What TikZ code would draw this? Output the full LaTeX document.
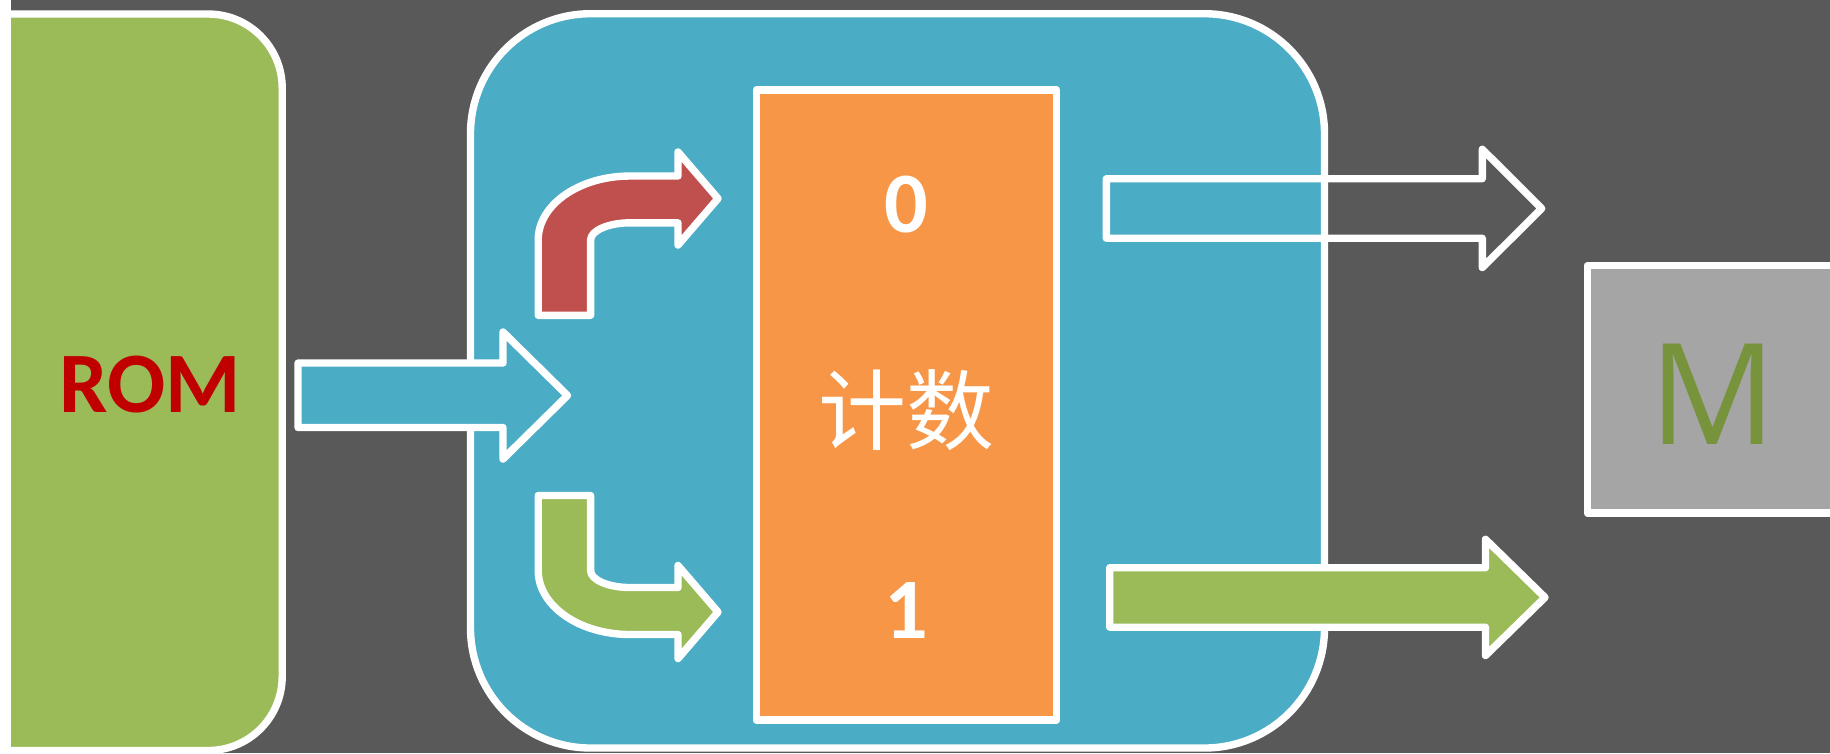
\documentclass[tikz,border=0pt]{standalone}
\usepackage{fontspec}
\setmainfont{Carlito}
\newfontfamily\cjk{Noto Sans CJK SC}
\newfontfamily\mfont{Open Sans}
\definecolor{bgc}{HTML}{595959}
\definecolor{romg}{HTML}{9BBB59}
\definecolor{blu}{HTML}{4BACC6}
\definecolor{redc}{HTML}{C0504D}
\definecolor{orc}{HTML}{F79646}
\definecolor{gryc}{HTML}{A5A5A5}
\definecolor{mtxt}{HTML}{77933C}
\definecolor{romtxt}{HTML}{C00000}
\begin{document}
\begin{tikzpicture}[x=0.01cm,y=-0.01cm,line join=round,
  wb/.style={draw=white,line width=2.1pt},
  lbl/.style={inner sep=0pt,text=white,font=\bfseries\fontsize{24.5pt}{26pt}\selectfont}]
\useasboundingbox (0,0) rectangle (1830,753);
\fill[white] (0,0) rectangle (1830,753);
\begin{scope}
\clip (11,0) rectangle (1830,753);
\fill[bgc] (11,0) rectangle (1830,753);
% ROM box
\draw[wb,fill=romg,rounded corners=0.74cm] (-150,14) rectangle (282.2,750.5);
% big blue box
\draw[wb,fill=blu,rounded corners=1.2cm] (470.5,13.7) rectangle (1324.5,748);
% counter box
\draw[wb,fill=orc] (756.3,90) rectangle (1056.7,720);
% input arrow
\draw[wb,fill=blu] (298,363) -- (503,363) -- (503,332) -- (567.5,395.5) -- (503,459) -- (503,427.5) -- (298,427.5) -- cycle;
% red bent arrow
\draw[wb,fill=redc] (538.2,315.3) -- (538.2,240) .. controls (538.2,204.7) and (579.2,176) .. (630,176)
  -- (678,176) -- (678,152) -- (718,198.5) -- (678,245) -- (678,222.8) -- (630,222.8)
  .. controls (608.5,222.8) and (590.6,230.6) .. (590.6,240) -- (590.6,315.3) -- cycle;
% green bent arrow
\draw[wb,fill=romg] (538.2,495.5) -- (538.2,570.5) .. controls (538.2,605.8) and (579.2,634.5) .. (630,634.5)
  -- (678,634.5) -- (678,658.5) -- (718,612) -- (678,565.5) -- (678,587.5) -- (630,587.5)
  .. controls (608.5,587.5) and (590.6,579.9) .. (590.6,570.5) -- (590.6,495.5) -- cycle;
% top-right outline arrow
\draw[wb] (1106.3,178.7) -- (1482.3,178.7) -- (1482.3,149.3) -- (1541.7,208.5) -- (1482.3,267.5) -- (1482.3,238.2) -- (1106.3,238.2) -- cycle;
% bottom-right green arrow
\draw[wb,fill=romg] (1109.7,567.7) -- (1485.5,567.7) -- (1485.5,539.3) -- (1545,597.4) -- (1485.5,655.5) -- (1485.5,627.2) -- (1109.7,627.2) -- cycle;
% M box
\draw[wb,fill=gryc] (1587.2,265.5) rectangle (1900,513);
% labels
\node[lbl,text=romtxt] (rom) at (150,385) {ROM};
\node[lbl] (zero) at (906.3,204.2) {0};
\node[inner sep=0pt,text=white,font=\cjk\fontsize{25pt}{27pt}\selectfont] (count) at (906.3,410) {计数};
\node[lbl] (one) at (906.3,611) {1};
\node[inner sep=0pt,text=mtxt,font=\mfont\fontsize{40pt}{42pt}\selectfont] (m) at (1713.3,394) {M};
\end{scope}
\end{tikzpicture}
\end{document}
